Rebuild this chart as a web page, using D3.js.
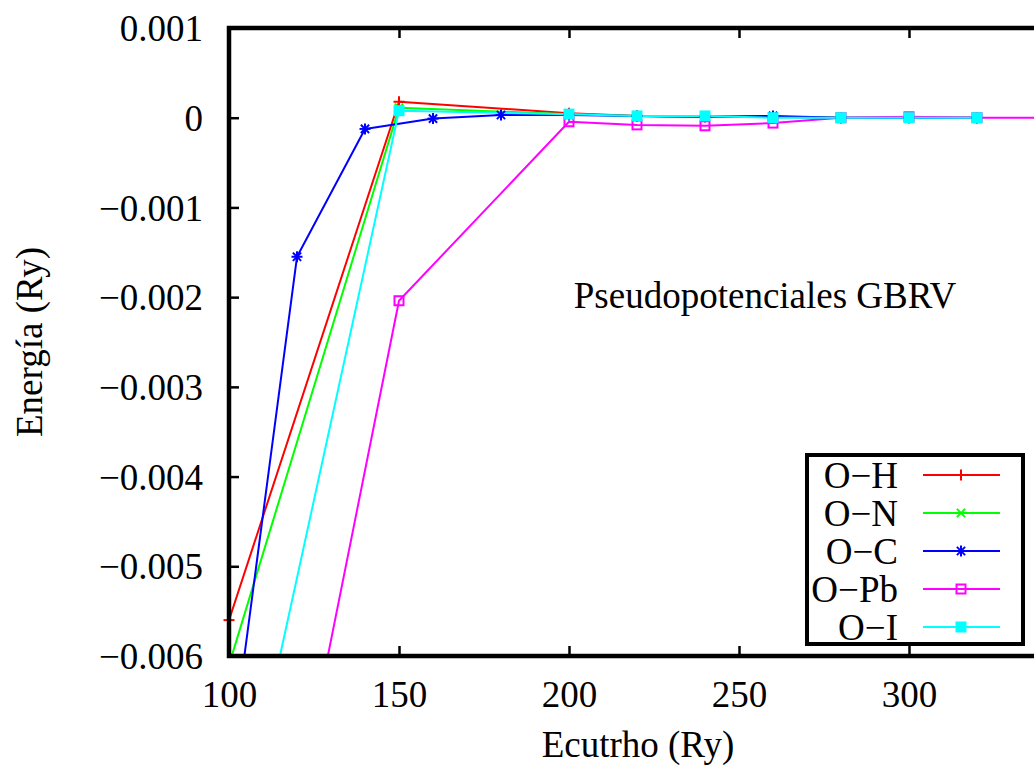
<!DOCTYPE html>
<html>
<head>
<meta charset="utf-8">
<script src="https://cdn.jsdelivr.net/npm/d3@7"></script>
<style>
  html, body { margin: 0; padding: 0; background: #fff; }
  svg { display: block; }
</style>
</head>
<body>
<svg id="chart" width="1034" height="770"></svg>
<script>
// ---- data ----
const seriesNames = ["O\u2212H", "O\u2212N", "O\u2212C", "O\u2212Pb", "O\u2212I"];
const seriesColors = ["#ff0000", "#00ff00", "#0000ff", "#ff00ff", "#00ffff"];
const seriesMarkers = ["plus", "cross", "star", "square", "filledSquare"];

const xOH = [100, 150, 200, 220, 240, 260, 280, 300, 320];
const yOH = [-0.0056, 0.000178, 0.00005, 0.00002, 0.00001, 0.00001, 0, 0, 0];

const xON = [100, 150, 200, 220, 240, 260, 280, 300, 320];
const yON = [-0.0061, 0.00011, 0.00004, 0.00002, 0.00001, 0.00001, 0, 0, 0];

const xOC = [100, 120, 140, 160, 180, 200, 220, 240, 260, 280, 300, 320];
const yOC = [-0.0073, -0.00155, -0.000125, -0.00001, 0.00003, 0.00003, 0.00002, 0.00001, 0.00002, 0, 0, 0];

const xOPb = [100, 150, 200, 220, 240, 260, 280, 300, 320, 340];
const yOPb = [-0.0115, -0.00204, -0.000045, -0.00008, -0.00009, -0.00006, 0, 0.00001, 0, 0];

const xOI = [100, 150, 200, 220, 240, 260, 280, 300, 320];
const yOI = [-0.0086, 0.000078, 0.00004, 0.00002, 0.00002, 0, 0, 0, 0];

const xTicks = [100, 150, 200, 250, 300];
const yTicks = [0.001, 0, -0.001, -0.002, -0.003, -0.004, -0.005, -0.006];
const yTickLabels = ["0.001", "0", "\u22120.001", "\u22120.002", "\u22120.003", "\u22120.004", "\u22120.005", "\u22120.006"];

const xTitle = "Ecutrho (Ry)";
const yTitle = "Energ\u00eda (Ry)";
const annotation = "Pseudopotenciales GBRV";

(function () {
// ---- layout ----
const pL = 229, pR = 1045, pT = 28, pB = 656;
const svg = d3.select("#chart");
const x = d3.scaleLinear().domain([100, 340]).range([pL, pR]);
const y = d3.scaleLinear().domain([-0.006, 0.001]).range([pB, pT]);

const FS = "37px";
const FF = "'Liberation Serif'";

function styleText(sel) {
  return sel.style("font-family", FF).style("font-size", FS).attr("fill", "#000");
}

// clip
svg.append("defs").append("clipPath").attr("id", "plotclip")
  .append("rect").attr("x", pL).attr("y", pT).attr("width", pR - pL).attr("height", pB - pT);

// axes ticks (inward) using d3 axes
const tickLen = 10;
const gxB = svg.append("g").attr("transform", `translate(0,${pB})`)
  .call(d3.axisBottom(x).tickValues(xTicks).tickSize(-tickLen).tickFormat(d3.format("d")));
const gxT = svg.append("g").attr("transform", `translate(0,${pT})`)
  .call(d3.axisTop(x).tickValues(xTicks).tickSize(-tickLen).tickFormat(""));
const gyL = svg.append("g").attr("transform", `translate(${pL},0)`)
  .call(d3.axisLeft(y).tickValues(yTicks).tickSize(-tickLen)
    .tickFormat((d, i) => yTickLabels[i]));
const gyR = svg.append("g").attr("transform", `translate(${pR},0)`)
  .call(d3.axisRight(y).tickValues(yTicks).tickSize(-tickLen).tickFormat(""));

[gxB, gxT, gyL, gyR].forEach(g => {
  g.attr("font-family", null).attr("font-size", null);
  g.select(".domain").remove();
  g.selectAll(".tick line").attr("stroke", "#000").attr("stroke-width", 2.5);
  styleText(g.selectAll(".tick text"));
});
gxB.selectAll(".tick text").attr("dy", "0.71em").attr("y", 25);
gyL.selectAll(".tick text").attr("dy", "0.34em").attr("x", -26);

// series lines
const lineGen = d3.line().x(d => x(d[0])).y(d => y(d[1]));
const allX = [xOH, xON, xOC, xOPb, xOI];
const allY = [yOH, yON, yOC, yOPb, yOI];
const series = seriesNames.map((n, i) => ({
  name: n, color: seriesColors[i], marker: seriesMarkers[i],
  pts: allX[i].map((xv, j) => [xv, allY[i][j]])
}));

const plotG = svg.append("g").attr("clip-path", "url(#plotclip)");
series.forEach(s => {
  plotG.append("path").datum(s.pts)
    .attr("fill", "none").attr("stroke", s.color).attr("stroke-width", 2)
    .attr("stroke-linejoin", "round")
    .attr("d", lineGen);
});

function drawMarker(g, type, cx, cy, color) {
  const r = 5.5;
  if (type === "plus" || type === "star") {
    g.append("line").attr("x1", cx - r).attr("x2", cx + r).attr("y1", cy).attr("y2", cy).attr("stroke", color).attr("stroke-width", 2);
    g.append("line").attr("x1", cx).attr("x2", cx).attr("y1", cy - r).attr("y2", cy + r).attr("stroke", color).attr("stroke-width", 2);
  }
  if (type === "cross" || type === "star") {
    const q = r * 0.75;
    g.append("line").attr("x1", cx - q).attr("x2", cx + q).attr("y1", cy - q).attr("y2", cy + q).attr("stroke", color).attr("stroke-width", 2);
    g.append("line").attr("x1", cx - q).attr("x2", cx + q).attr("y1", cy + q).attr("y2", cy - q).attr("stroke", color).attr("stroke-width", 2);
  }
  if (type === "square") {
    g.append("rect").attr("x", cx - 4.5).attr("y", cy - 4.5).attr("width", 9).attr("height", 9)
      .attr("fill", "none").attr("stroke", color).attr("stroke-width", 2);
  }
  if (type === "filledSquare") {
    g.append("rect").attr("x", cx - 5.5).attr("y", cy - 5.5).attr("width", 11).attr("height", 11)
      .attr("fill", color).attr("stroke", "none");
  }
}

// markers (only in-range points)
const markG = svg.append("g");
series.forEach(s => {
  s.pts.forEach(p => {
    if (p[1] >= -0.006 - 1e-12 && p[1] <= 0.001 && p[0] >= 100 && p[0] <= 340) {
      drawMarker(markG, s.marker, x(p[0]), y(p[1]), s.color);
    }
  });
});

// frame
svg.append("rect").attr("x", pL).attr("y", pT).attr("width", pR - pL).attr("height", pB - pT)
  .attr("fill", "none").attr("stroke", "#000").attr("stroke-width", 4.5);

// annotation
styleText(svg.append("text").attr("x", 765).attr("y", 308).attr("text-anchor", "middle")).text(annotation);

// axis titles
styleText(svg.append("text").attr("x", 638).attr("y", 757).attr("text-anchor", "middle")).text(xTitle);
styleText(svg.append("text").attr("transform", "translate(42,342) rotate(-90)").attr("text-anchor", "middle")).text(yTitle);

// legend
const lg = svg.append("g");
lg.append("rect").attr("x", 807).attr("y", 455).attr("width", 216).attr("height", 189)
  .attr("fill", "#fff").attr("stroke", "#000").attr("stroke-width", 4);
series.forEach((s, i) => {
  const cy = 475 + i * 38;
  styleText(lg.append("text").attr("x", 898).attr("y", cy).attr("dy", "0.35em").attr("text-anchor", "end")).text(s.name);
  lg.append("line").attr("x1", 923).attr("x2", 1000).attr("y1", cy).attr("y2", cy)
    .attr("stroke", s.color).attr("stroke-width", 2);
  drawMarker(lg, s.marker, 961, cy, s.color);
});
})();
</script>
</body>
</html>
